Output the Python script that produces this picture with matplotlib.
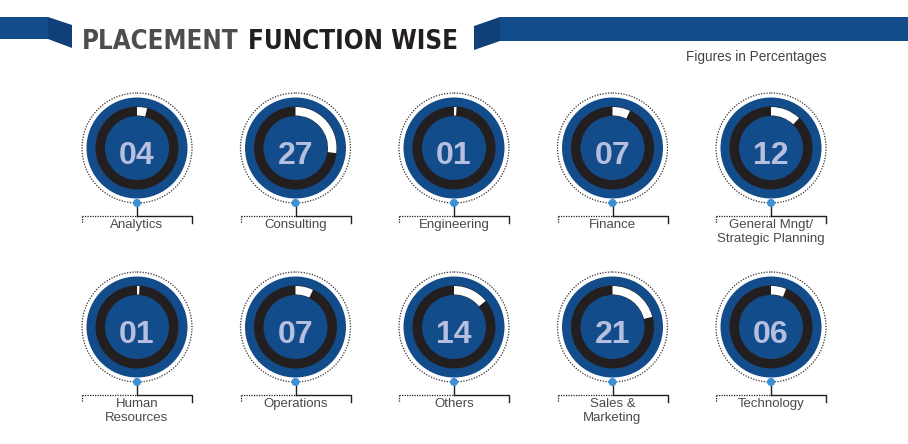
import numpy as np
import matplotlib.pyplot as plt
from matplotlib.patches import Circle, Wedge, Polygon

# data
functions = ['Analytics', 'Consulting', 'Engineering', 'Finance',
             'General Mngt/\nStrategic Planning',
             'Human\nResources', 'Operations', 'Others', 'Sales &\nMarketing',
             'Technology']
percent = [4, 27, 1, 7, 12, 1, 7, 14, 21, 6]

BLUE = '#134c8a'
DARK = '#231f20'
NUM = '#b7bfe0'
DOT = '#3d8fd6'

fig = plt.figure(figsize=(9.08, 4.44), dpi=100)
ax = fig.add_axes([0, 0, 1, 1])
ax.set_xlim(0, 908)
ax.set_ylim(444, 0)
ax.axis('off')

# header bands
ax.add_patch(Polygon([(0, 17), (48, 17), (48, 39), (0, 39)], color=BLUE, lw=0))
ax.add_patch(Polygon([(48, 17), (72, 25), (72, 48), (48, 39)], color='#0f4178', lw=0))
ax.add_patch(Polygon([(500, 17), (908, 17), (908, 41), (500, 41)], color=BLUE, lw=0))
ax.add_patch(Polygon([(474, 26), (500, 17), (500, 41), (474, 50)], color='#0f4178', lw=0))

# title: two parts, sized to fit their widths in the reference
renderer = fig.canvas.get_renderer()
def fit_text(x, w, s, color):
    t = ax.text(x, 42, s, fontsize=20, fontweight='bold', family='DejaVu Sans',
                fontstretch='condensed', color=color, va='center', ha='left')
    bb = t.get_window_extent(renderer)
    t.set_fontsize(20 * w / bb.width)
    return t

fit_text(82, 156, 'PLACEMENT', '#4d4d4d')
fit_text(248, 210, 'FUNCTION WISE', DARK)

ax.text(826, 57, 'Figures in Percentages', fontsize=9.8, color='#444444',
        va='center', ha='right', family='Liberation Sans')

x0, dx = 137, 158.5
rows_y = [148, 327]

for i, (name, p) in enumerate(zip(functions, percent)):
    cx = x0 + dx * (i % 5)
    cy = rows_y[i // 5]
    # outer dotted circle
    ax.add_patch(Circle((cx, cy), 55, fill=False, ec='#333333', lw=0.9, ls=(0, (1, 1.2))))
    ax.add_patch(Circle((cx, cy), 50.5, color=BLUE, lw=0))
    # dark ring + white progress arc, clockwise from 12 o'clock
    ax.add_patch(Wedge((cx, cy), 41.5, 0, 360, width=9.5, color=DARK, lw=0))
    ax.add_patch(Wedge((cx, cy), 41, -90, -90 + 3.6 * p, width=8.5, color='white', lw=0))
    ax.text(cx, cy + 15.5, '%02d' % p, fontsize=23, fontweight='bold', color=NUM,
            ha='center', va='baseline', family='Liberation Sans')
    # connector and bracket
    ly = cy + 68
    ax.plot([cx, cx], [cy + 55, ly], color=DARK, lw=1)
    ax.plot([cx - 55, cx], [ly, ly], color=DARK, lw=0.9, ls=(0, (1, 1)))
    ax.plot([cx - 55, cx - 55], [ly, ly + 7], color=DARK, lw=0.9, ls=(0, (1, 1)))
    ax.plot([cx, cx + 55, cx + 55], [ly, ly, ly + 7], color=DARK, lw=1)
    ax.add_patch(Circle((cx, cy + 55), 4, color=DOT, lw=0, zorder=5))
    ax.text(cx, ly + 3, name, fontsize=9.5, color='#4a4a4a', ha='center', va='top',
            family='Liberation Sans', linespacing=1.2)

fig.savefig('out.png', dpi=100)
